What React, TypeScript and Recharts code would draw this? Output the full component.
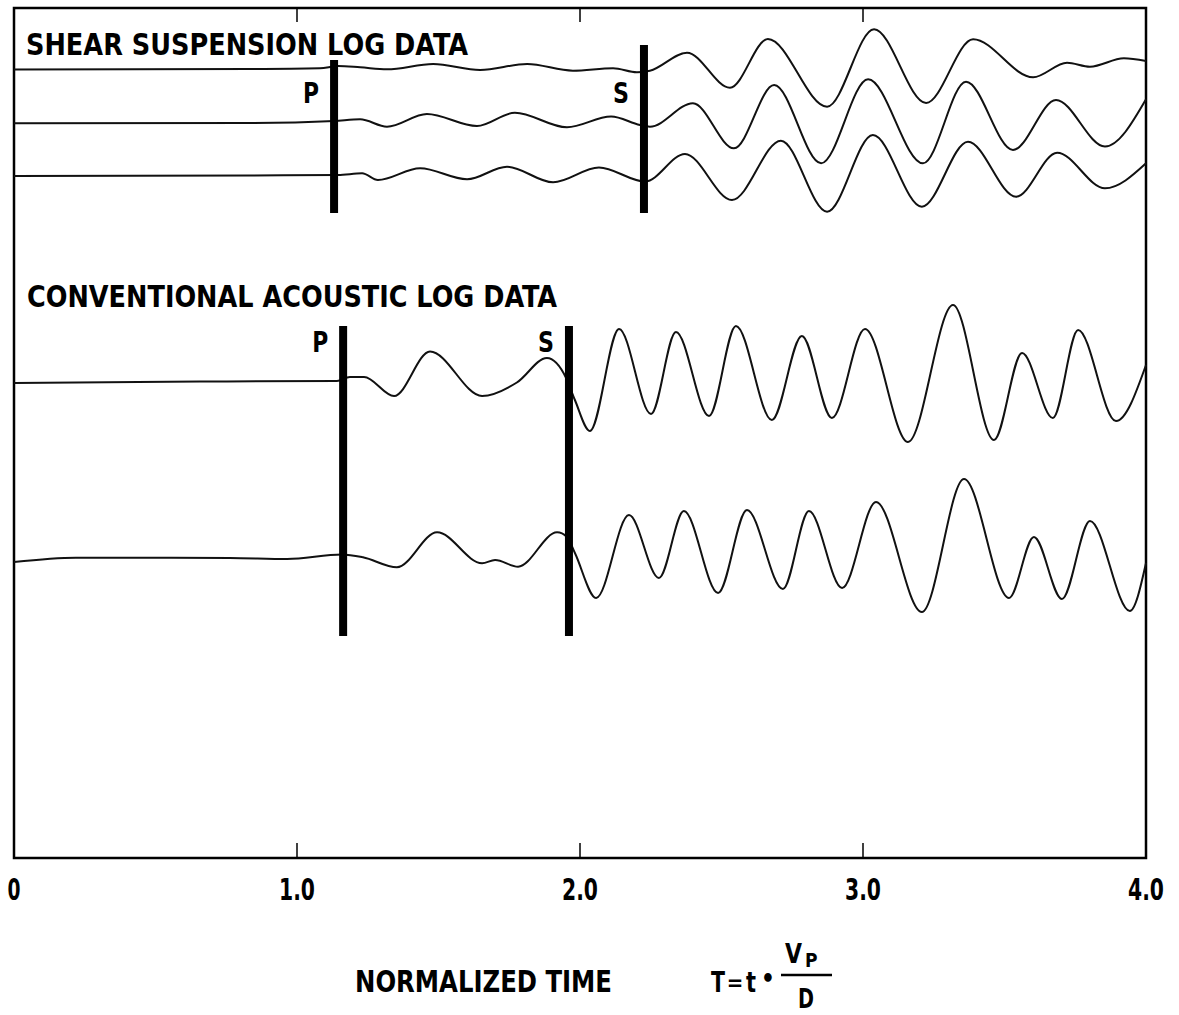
import React from 'react';
import { LineChart, Line, XAxis, YAxis, ReferenceArea, ReferenceLine, ReferenceDot } from 'recharts';

// Normalized time ticks
const X_TICKS = [0, 1, 2, 3, 4];
const X_TICK_LABELS = ['0', '1.0', '2.0', '3.0', '4.0'];
const INNER_TICKS = [1, 2, 3];

// Track (baseline) level of each trace on the vertical scale (0..850)
const TRACE_BASE = [788, 735, 682, 477, 298];

// Each trace: [normalized time T, deflection from its baseline (up = +)]
const SHEAR_1: [number, number][] = [
  [0, 0.5], [0.834, 1], [1.081, 1.7], [1.145, 4], [1.223, 2.7], [1.318, 0.7], [1.481, 6], [1.647, 0],
  [1.813, 6], [1.975, -0.7], [2.117, 1.7], [2.201, -2.3], [2.247, -0.7], [2.378, 17.3], [2.53, -17.7],
  [2.664, 31], [2.873, -36.7], [3.039, 40.7], [3.223, -33], [3.389, 30.7], [3.601, -7.3], [3.721, 7.3],
  [3.802, 3.3], [3.922, 11.7], [4.0, 9],
];
const SHEAR_2: [number, number][] = [
  [0, -0.3], [0.834, 0], [1.131, 2], [1.223, 3.7], [1.318, -3.7], [1.459, 9], [1.636, -3], [1.77, 10.3],
  [1.954, -4.3], [2.11, 6.5], [2.212, -2], [2.247, -3.7], [2.399, 19.7], [2.544, -25.3], [2.686, 38],
  [2.852, -40.3], [3.018, 43.7], [3.212, -40.3], [3.364, 41.3], [3.53, -27], [3.682, 23], [3.855, -23.5],
  [4.0, 23.7],
];
const SHEAR_3: [number, number][] = [
  [0, 0], [0.834, 0.5], [1.145, 1], [1.23, 2.7], [1.286, -4], [1.435, 7.7], [1.601, -3.3], [1.742, 9.3],
  [1.905, -6.3], [2.067, 8.5], [2.23, -5.5], [2.371, 22], [2.537, -24], [2.71, 35.3], [2.873, -35.7],
  [3.035, 41], [3.208, -30.7], [3.371, 34.3], [3.541, -20.7], [3.686, 23.3], [3.855, -12.3], [4.0, 12.7],
];
const ACOUSTIC_1: [number, number][] = [
  [0, -2], [0.657, -0.5], [1.141, 0], [1.187, 4], [1.237, 4], [1.343, -15], [1.47, 29.5], [1.654, -15],
  [1.777, -1.5], [1.883, 23], [1.951, 3], [1.982, -19], [2.035, -50], [2.138, 52], [2.251, -33],
  [2.339, 49], [2.456, -35], [2.551, 55], [2.678, -39], [2.784, 45], [2.89, -37], [3.007, 52],
  [3.159, -61], [3.318, 76], [3.463, -59], [3.562, 28], [3.671, -37], [3.76, 51], [3.894, -40], [4.0, 16],
];
const ACOUSTIC_2: [number, number][] = [
  [0, -2], [0.219, 2.3], [0.763, 2], [0.965, 1], [1.159, 5.5], [1.233, 2.7], [1.353, -7.3], [1.495, 27.7],
  [1.654, -3.3], [1.7, 0], [1.781, -6.7], [1.919, 27.7], [1.954, 23], [1.982, 7], [2.057, -38],
  [2.173, 45], [2.279, -18], [2.367, 49], [2.488, -33], [2.59, 50], [2.717, -29], [2.809, 49],
  [2.926, -28], [3.046, 58], [3.208, -52], [3.357, 81], [3.516, -38], [3.604, 23], [3.703, -39],
  [3.802, 39], [3.943, -51], [4.0, -3],
];
const TRACES = [SHEAR_1, SHEAR_2, SHEAR_3, ACOUSTIC_1, ACOUSTIC_2];

// P and S arrival picks: time, vertical extent of the marker, label level
const ARRIVAL_LABELS = ['P', 'S', 'P', 'S'];
const ARRIVAL_T = [1.131, 2.226, 1.163, 1.961];
const ARRIVAL_TOP = [798, 813, 532, 532];
const ARRIVAL_BOTTOM = [645, 645, 222, 222];
const ARRIVAL_LABEL_Y = [755, 755, 506, 506];

const FONT = "'Liberation Sans Narrow', 'DejaVu Sans Condensed', 'Arial Narrow', sans-serif";

const W = 1179;
const H = 1015;

const seriesData = TRACES.map((tr, i) => tr.map(([t, a]) => ({ t, y: TRACE_BASE[i] + a })));

const renderBottomTick = (props: any) => {
  const { x, y, payload } = props;
  const idx = X_TICKS.indexOf(payload.value);
  const label = X_TICK_LABELS[idx] ?? String(payload.value);
  return (
    <text
      key={'tk' + payload.value}
      x={x}
      y={y + 42}
      textAnchor="middle"
      fontFamily={FONT}
      fontWeight="bold"
      fontSize={30}
      fill="#000"
      textLength={label.length === 1 ? 13 : 36}
      lengthAdjust="spacingAndGlyphs"
    >
      {label}
    </text>
  );
};

const makeLabel = (text: string) => (props: any) => (
  <text
    x={props.cx - 15}
    y={props.cy}
    textAnchor="end"
    fontFamily={FONT}
    fontWeight="bold"
    fontSize={28}
    fill="#000"
    textLength={16}
    lengthAdjust="spacingAndGlyphs"
  >
    {text}
  </text>
);

const txt = { fontFamily: FONT, fontWeight: 'bold' as const, fill: '#000' };

export default function App() {
  return (
    <div style={{ position: 'absolute', left: 0, top: 0, width: W, height: H, background: '#fff' }}>
      <LineChart width={W} height={H} margin={{ top: 8, right: 33, bottom: 127, left: 14 }}>
        <XAxis
          xAxisId="b"
          type="number"
          dataKey="t"
          domain={[0, 4]}
          ticks={X_TICKS}
          axisLine={false}
          tickLine={false}
          tickSize={0}
          tickMargin={0}
          height={30}
          interval={0}
          tick={renderBottomTick}
        />
        <YAxis type="number" domain={[0, 850]} hide allowDataOverflow />
        <ReferenceArea
          xAxisId="b"
          x1={0}
          x2={4}
          y1={0}
          y2={850}
          fill="none"
          fillOpacity={0}
          stroke="#000"
          strokeWidth={2.5}
        />
        {INNER_TICKS.map((t) => (
          <ReferenceLine
            key={'bt' + t}
            xAxisId="b"
            segment={[{ x: t, y: 0 }, { x: t, y: 15 }]}
            stroke="#000"
            strokeWidth={1.5}
          />
        ))}
        {INNER_TICKS.map((t) => (
          <ReferenceLine
            key={'tt' + t}
            xAxisId="b"
            segment={[{ x: t, y: 850 }, { x: t, y: 836 }]}
            stroke="#000"
            strokeWidth={1.5}
          />
        ))}
        {seriesData.map((d, i) => (
          <Line
            key={i}
            xAxisId="b"
            data={d}
            dataKey="y"
            type="monotone"
            stroke="#111"
            strokeWidth={2}
            dot={false}
            isAnimationActive={false}
          />
        ))}
        {ARRIVAL_T.map((t, i) => (
          <ReferenceLine
            key={'a' + i}
            xAxisId="b"
            segment={[{ x: t, y: ARRIVAL_BOTTOM[i] }, { x: t, y: ARRIVAL_TOP[i] }]}
            stroke="#000"
            strokeWidth={8}
          />
        ))}
        {ARRIVAL_T.map((t, i) => (
          <ReferenceDot
            key={'l' + i}
            xAxisId="b"
            x={t}
            y={ARRIVAL_LABEL_Y[i]}
            r={1}
            shape={makeLabel(ARRIVAL_LABELS[i])}
          />
        ))}
      </LineChart>
      <svg
        width={W}
        height={H}
        style={{ position: 'absolute', left: 0, top: 0, pointerEvents: 'none' }}
      >
        <text x={26} y={55} {...txt} fontSize={30} textLength={442} lengthAdjust="spacingAndGlyphs">
          SHEAR SUSPENSION LOG DATA
        </text>
        <text x={27} y={307} {...txt} fontSize={30} textLength={530} lengthAdjust="spacingAndGlyphs">
          CONVENTIONAL ACOUSTIC LOG DATA
        </text>
        <text x={355} y={992} {...txt} fontSize={31} textLength={257} lengthAdjust="spacingAndGlyphs">
          NORMALIZED TIME
        </text>
        <text x={718} y={992} textAnchor="middle" {...txt} fontSize={29} textLength={14} lengthAdjust="spacingAndGlyphs">T</text>
        <text x={735} y={990} textAnchor="middle" {...txt} fontSize={22}>=</text>
        <text x={751} y={992} textAnchor="middle" {...txt} fontSize={29} textLength={10} lengthAdjust="spacingAndGlyphs">t</text>
        <text x={768} y={987} textAnchor="middle" {...txt} fontSize={24}>•</text>
        <text x={785} y={963} {...txt} fontSize={26} textLength={17} lengthAdjust="spacingAndGlyphs">V</text>
        <text x={805} y={967} {...txt} fontSize={19}>P</text>
        <line x1={781} x2={832} y1={975} y2={975} stroke="#000" strokeWidth={2.5} />
        <text x={806} y={1008} textAnchor="middle" {...txt} fontSize={26} textLength={16} lengthAdjust="spacingAndGlyphs">D</text>
      </svg>
    </div>
  );
}
